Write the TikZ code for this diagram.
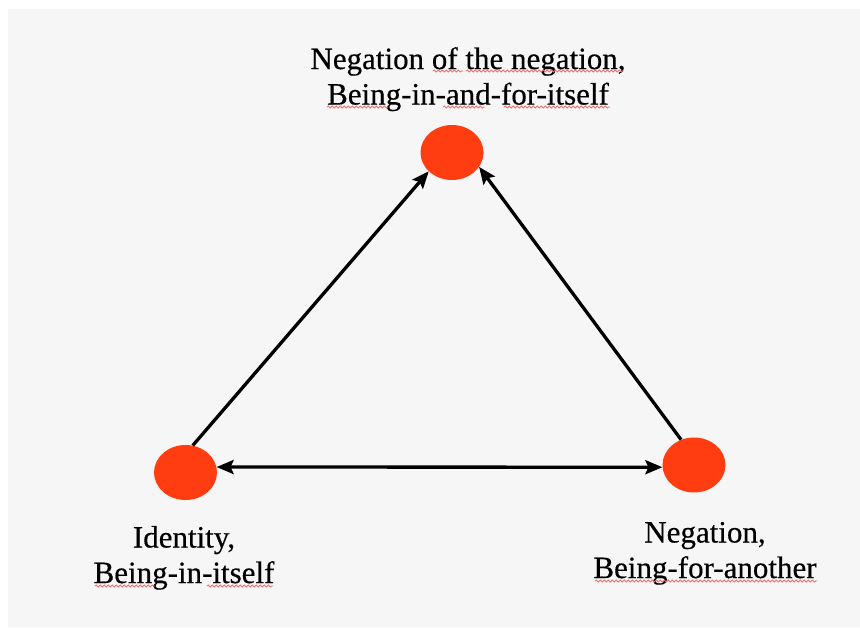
\documentclass[tikz,border=0pt]{standalone}
\usepackage{fontspec}
\setmainfont{Liberation Serif}
\newfontfamily\lblfont{Liberation Serif}[FakeBold=0.4]
\usetikzlibrary{shapes.geometric,arrows.meta,decorations.pathmorphing}
\definecolor{bgray}{HTML}{F6F6F6}
\definecolor{dotred}{HTML}{FF3D10}
\definecolor{squig}{HTML}{EE7070}
\tikzset{
  dot/.style={ellipse, fill=dotred, draw=none, inner sep=0pt, minimum width=63pt, minimum height=55pt},
  lbl/.style={align=center, inner sep=0pt, anchor=north, font=\lblfont\fontsize{31}{35.5}\selectfont},
  arr/.style={line width=3.3pt, -{Stealth[length=17pt,width=14pt,inset=3pt]}},
  arrb/.style={line width=3.3pt, {Stealth[length=17pt,width=14pt,inset=3pt]}-{Stealth[length=17pt,width=14pt,inset=3pt]}},
  sq/.style={draw=squig, line width=0.8pt, decorate, decoration={snake, segment length=4pt, amplitude=1.1pt}}
}
\begin{document}
\begin{tikzpicture}[x=1pt,y=-1pt]
\useasboundingbox (0,0) rectangle (860,627);
\fill[white] (0,0) rectangle (860,627);
\fill[bgray] (8,9) rectangle (860,627);
% dots
\node[dot] (T) at (452,152.5) {};
\node[dot] (L) at (185.5,472.5) {};
\node[dot] (R) at (694,465) {};
% arrows
\draw[arr] (L.75) -- (T.219);
\draw[arr] (R.117) -- (T.332);
\draw[arrb] (L.10) -- (R.184);
% labels
\node[lbl] (tl) at (468,47) {Negation of the negation,\\Being-in-and-for-itself};
\node[lbl] (ll) at (184,525.8) {Identity,\\Being-in-itself};
\node[lbl] (rl) at (705,521.8) {Negation,\\Being-for-another};
% spell-check underlines
\coordinate (s1a) at (433,71); \coordinate (s1b) at (463,71);
\coordinate (s2a) at (466,71); \coordinate (s2b) at (623,71);
\coordinate (s3a) at (327,107); \coordinate (s3b) at (388,107);
\coordinate (s4a) at (443,107); \coordinate (s4b) at (485,107);
\coordinate (s5a) at (504,107); \coordinate (s5b) at (610,107);
\coordinate (s6a) at (95,586); \coordinate (s6b) at (155,586);
\coordinate (s7a) at (207,586); \coordinate (s7b) at (273,586);
\coordinate (s8a) at (595,581); \coordinate (s8b) at (817,581);
\foreach \s in {1,...,8} {\draw[sq] (s\s a) -- (s\s b);}
\end{tikzpicture}
\end{document}
